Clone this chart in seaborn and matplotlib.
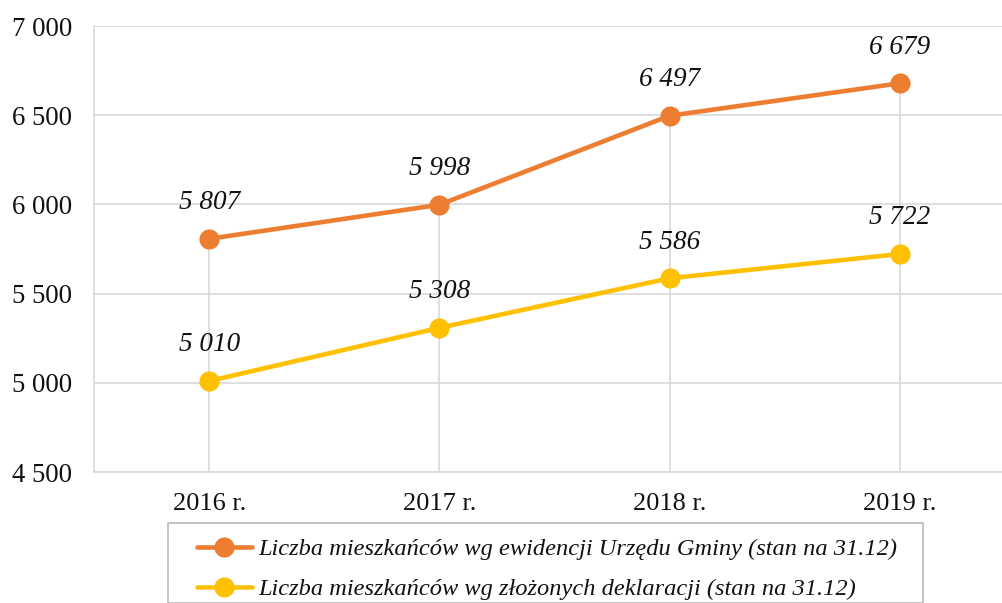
import matplotlib
matplotlib.use("Agg")
import matplotlib.pyplot as plt
from matplotlib.patches import Rectangle
import seaborn as sns
import pandas as pd

years = ["2016 r.", "2017 r.", "2018 r.", "2019 r."]
ewidencja = [5807, 5998, 6497, 6679]
deklaracje = [5010, 5308, 5586, 5722]
label_ewid = "Liczba mieszkańców wg ewidencji Urzędu Gminy (stan na 31.12)"
label_dekl = "Liczba mieszkańców wg złożonych deklaracji (stan na 31.12)"
yticks = [4500, 5000, 5500, 6000, 6500, 7000]

sns.set_theme(style="white")
plt.rcParams["font.family"] = ["Liberation Serif", "DejaVu Serif"]

ORANGE = "#ED7D31"
YELLOW = "#FFC000"
GRID = "#d9d9d9"
W, H = 1003, 603

fig = plt.figure(figsize=(W / 100, H / 100), dpi=100)
ax = fig.add_axes([94 / W, 1 - 472 / H, 1 - 94 / W, (472 - 26) / H])

df = pd.DataFrame({"year": years, "ewid": ewidencja, "dekl": deklaracje})
xpos = list(range(len(years)))

# drop lines
ax.vlines(xpos, yticks[0], [max(a, b) for a, b in zip(ewidencja, deklaracje)],
          color=GRID, lw=1.2, zorder=1)

sns.lineplot(x=xpos, y=df["ewid"], ax=ax, color=ORANGE, lw=3.3, marker="o",
             markersize=14.5, markeredgewidth=0, label=label_ewid, zorder=3)
sns.lineplot(x=xpos, y=df["dekl"], ax=ax, color=YELLOW, lw=3.3, marker="o",
             markersize=14.5, markeredgewidth=0, label=label_dekl, zorder=3)

for series in (ewidencja, deklaracje):
    for x, v in zip(xpos, series):
        ax.annotate(f"{v:,}".replace(",", " "), (x, v), xytext=(0, 26),
                    textcoords="offset points", ha="center", va="center",
                    fontsize=19.5, fontstyle="italic", color="#111111")

ax.set_xlim(-0.5, 3.5 - 12 / 230)
ax.set_ylim(yticks[0], yticks[-1])
ax.set_yticks(yticks)
ax.set_yticklabels([f"{v:,}".replace(",", " ") for v in yticks])
ax.set_xticks(xpos)
ax.set_xticklabels(years)
ax.yaxis.grid(True, color=GRID, lw=1.2)
ax.xaxis.grid(False)
ax.set_axisbelow(True)
ax.tick_params(axis="y", length=0, pad=16, labelsize=19.3, labelcolor="#111111")
ax.tick_params(axis="x", length=0, pad=15, labelsize=19, labelcolor="#111111")
ax.set_xlabel("")
ax.set_ylabel("")
for s in ("top", "right"):
    ax.spines[s].set_visible(False)
for s in ("left", "bottom"):
    ax.spines[s].set_color(GRID)
    ax.spines[s].set_linewidth(1.2)

handles, labels = ax.get_legend_handles_labels()
ax.get_legend().remove()
leg = fig.legend(handles, labels, loc="upper left",
                 bbox_to_anchor=(197 / W, 1 - 538 / H),
                 prop={"size": 17.6, "style": "italic"},
                 frameon=False, handlelength=2.25, handletextpad=0.25,
                 borderpad=0, labelspacing=0.74, borderaxespad=0)
for t in leg.get_texts():
    t.set_color("#111111")

# legend box
fig.patches.append(Rectangle((168 / W, 0), (923 - 168) / W, 1 - 529 / H + 0.01,
                             transform=fig.transFigure, fill=False,
                             edgecolor="#bfbfbf", lw=1.3, zorder=0))

fig.savefig("out.png", dpi=100)
